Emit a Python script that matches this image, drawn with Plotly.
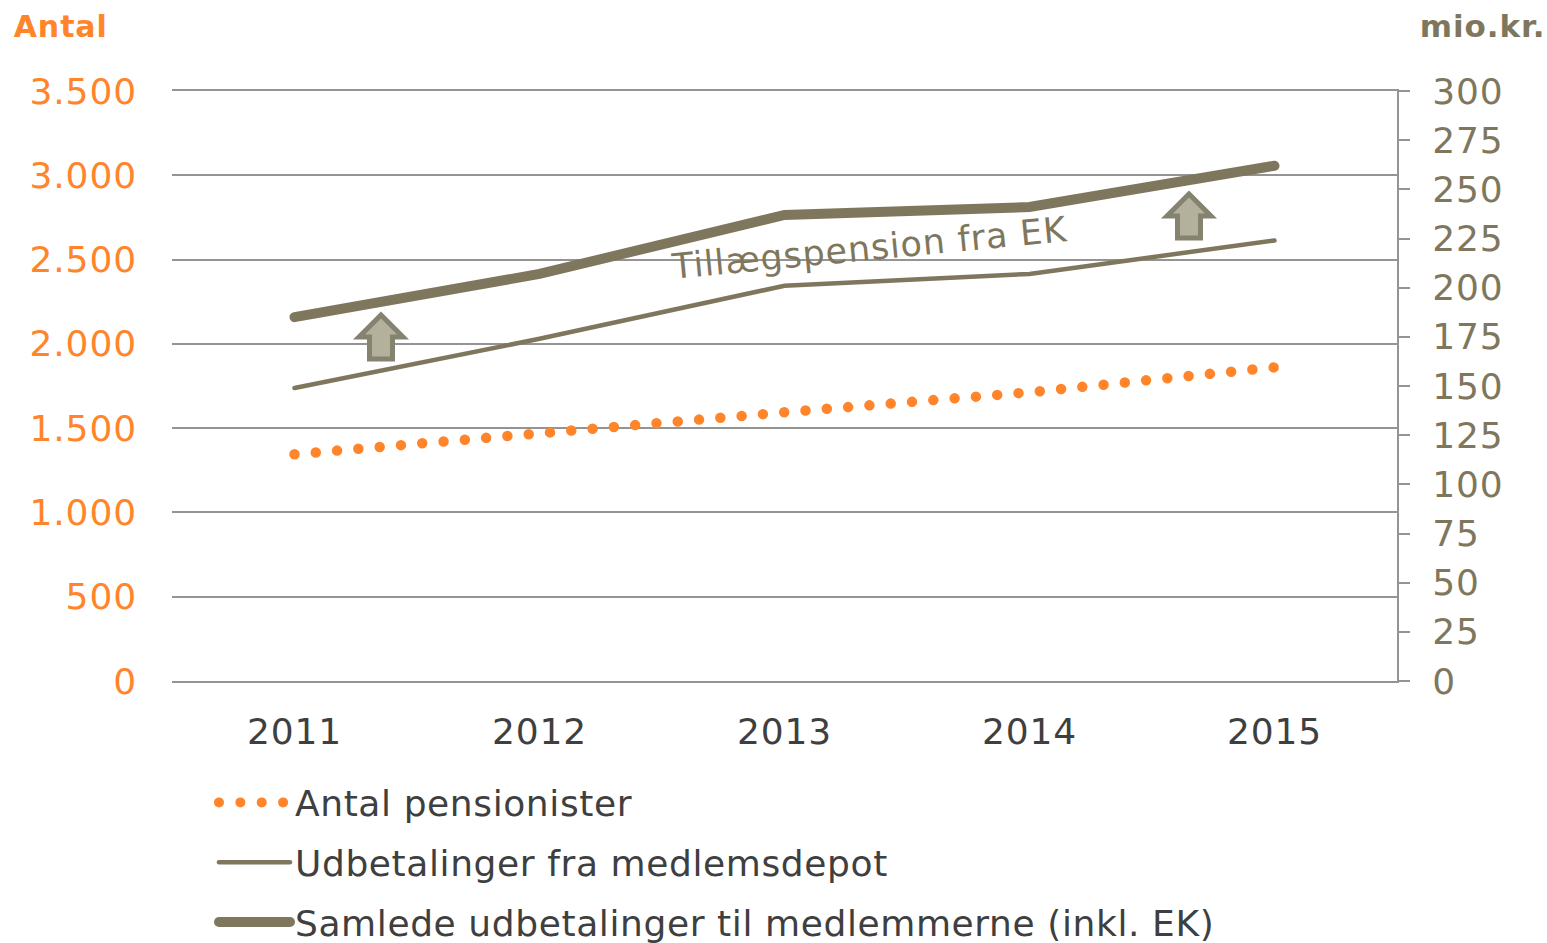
import plotly.graph_objects as go

W, H = 1547, 943
L, R, T, B = 172, 1397, 91, 681

years = ["2011", "2012", "2013", "2014", "2015"]
antal = [1345, 1462, 1594, 1713, 1861]
depot = [149, 174, 201, 207, 224]
samlede = [185, 207, 237, 241, 262]
left_ticks = [0, 500, 1000, 1500, 2000, 2500, 3000, 3500]
left_labels = ["0", "500", "1.000", "1.500", "2.000", "2.500", "3.000", "3.500"]
right_ticks = [0, 25, 50, 75, 100, 125, 150, 175, 200, 225, 250, 275, 300]

ORANGE = "#FF842A"
BROWN = "#7F775D"
GRID = "#949494"
TEXT = "#3F3F3F"
FONT = "DejaVu Sans"


def px(x):
    return (x - L) / (R - L)


def py(y):
    return (B - y) / (B - T)


def arrow(cx, top):
    pts = [(0, 0), (22, 22), (11.5, 22), (11.5, 44), (-11.5, 44), (-11.5, 22), (-22, 22)]
    d = "M" + " L".join(f"{px(cx + a)},{py(top + b)}" for a, b in pts) + " Z"
    return dict(type="path", xref="paper", yref="paper", path=d,
                fillcolor="#B3B09C", line=dict(color="#868270", width=5))


fig = go.Figure()
fig.add_trace(go.Scatter(x=years, y=antal, name="Antal pensionister", mode="lines", yaxis="y",
                         legendgroup="a",
                         line=dict(color=ORANGE, width=10.5, dash="0px,21.37px")))
fig.add_trace(go.Scatter(x=years, y=depot, name="Udbetalinger fra medlemsdepot", mode="lines", yaxis="y2",
                         legendgroup="b",
                         line=dict(color=BROWN, width=4.5)))
fig.add_trace(go.Scatter(x=years, y=samlede, name="Samlede udbetalinger til medlemmerne (inkl. EK)", mode="lines",
                         yaxis="y2", legendgroup="c",
                         line=dict(color=BROWN, width=10)))

fig.update_layout(
    width=W, height=H, autosize=False,
    margin=dict(l=L, r=W - R, t=T, b=H - B, pad=0, autoexpand=False),
    paper_bgcolor="white", plot_bgcolor="white",
    font=dict(family=FONT, size=36, color=TEXT),
    xaxis=dict(type="category", range=[-0.5, 4.5], showgrid=False, showline=True, mirror=True, linecolor=GRID,
               linewidth=2, ticks="", tickfont=dict(size=36, color=TEXT), ticklabelstandoff=18, zeroline=False,
               tickangle=0),
    yaxis=dict(range=[0, 3500], tickvals=left_ticks, ticktext=left_labels, showgrid=True, gridcolor=GRID,
               gridwidth=2, zeroline=False, showline=False, ticks="",
               tickfont=dict(size=36, color=ORANGE), ticklabelstandoff=34),
    yaxis2=dict(range=[0, 300], tickvals=right_ticks, side="right", overlaying="y", anchor="x", showgrid=False,
                zeroline=False, showline=True, linecolor=GRID, linewidth=2, ticks="outside", ticklen=11,
                tickcolor=GRID, tickwidth=2, tickfont=dict(size=36, color=BROWN), ticklabelstandoff=15),
    legend=dict(x=px(214), y=py(772.5), xanchor="left", yanchor="top",
                orientation="v", itemwidth=71, tracegroupgap=10, bgcolor="rgba(0,0,0,0)",
                font=dict(size=36, color=TEXT), traceorder="grouped"),
    shapes=[arrow(381, 315), arrow(1189, 194)],
    annotations=[
        dict(text="<b>Antal</b>", xref="paper", yref="paper", x=px(14), y=py(27), xanchor="left", yanchor="middle",
             showarrow=False, font=dict(size=30, color=ORANGE)),
        dict(text="<b>mio.kr.</b>", xref="paper", yref="paper", x=px(1544), y=py(26), xanchor="right",
             yanchor="middle", showarrow=False, font=dict(size=31, color=BROWN)),
        dict(text="Tillægspension fra EK", xref="paper", yref="paper", x=px(869), y=py(248), xanchor="center",
             yanchor="middle", textangle=-5.5, showarrow=False, font=dict(size=35, color=BROWN)),
    ],
)

fig.write_html("out.html", config={"displayModeBar": False}, post_script="""
document.body.style.margin='0';
document.querySelectorAll('.js-line, .legendlines path').forEach(function(p){p.style.strokeLinecap='round';});
document.querySelectorAll('svg text').forEach(function(t){t.style.letterSpacing='0.9px';});
document.querySelectorAll('.legend text').forEach(function(t){t.style.letterSpacing='0.6px';});
document.querySelectorAll('.legend, .legend .scrollbox').forEach(function(g){g.removeAttribute('clip-path');g.style.clipPath='none';});
""")
